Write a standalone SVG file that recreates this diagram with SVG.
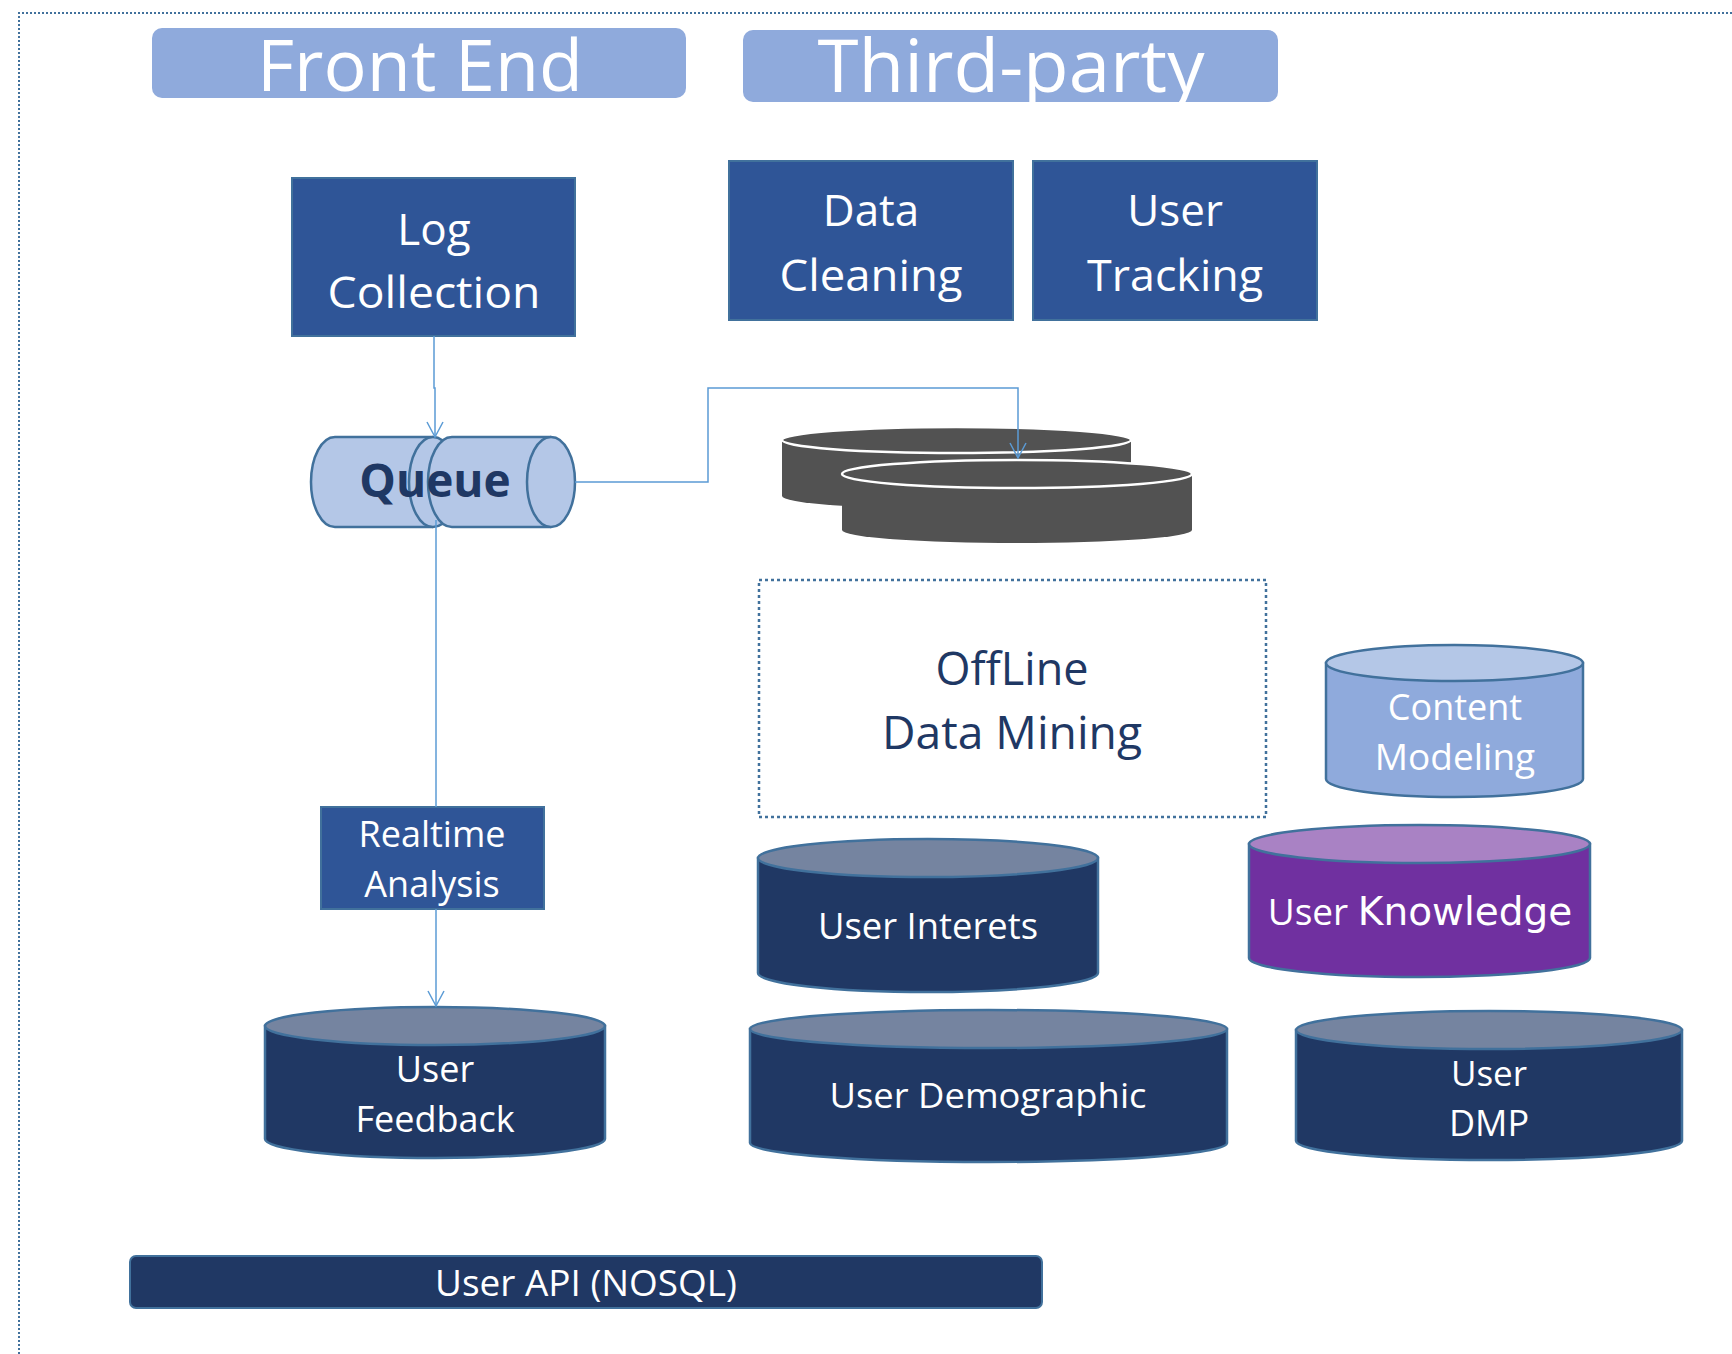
<svg xmlns="http://www.w3.org/2000/svg" width="1732" height="1354" viewBox="0 0 1732 1354">
<style>
text{font-family:"Open Sans","Liberation Sans",sans-serif;text-anchor:middle}
.w{fill:#ffffff}
.hdr{fill:#8faadc}
.proc{fill:#2f5597;stroke:#41719c;stroke-width:2}
.dark{fill:#203864;stroke:#41719c;stroke-width:2.5}
.darktop{fill:#7584a0;stroke:#41719c;stroke-width:2.5}
.conn{fill:none;stroke:#5b9bd5;stroke-width:1.5}
.q{fill:#b4c7e7;stroke:#41719c;stroke-width:2.5}
.gray{fill:#525252}
.graytop{fill:#525252;stroke:#ffffff;stroke-width:2.5}
</style>
<defs>
<marker id="arr" markerUnits="userSpaceOnUse" markerWidth="20" markerHeight="20" refX="16" refY="9" orient="auto">
<path d="M1,1 L16,9 L1,17" fill="none" stroke="#5b9bd5" stroke-width="1.5"/>
</marker>
</defs>
<rect width="1732" height="1354" fill="#ffffff"/>
<path d="M19,1354 V13 H1732" fill="none" stroke="#41719c" stroke-width="2" stroke-dasharray="2 2"/>

<g id="front-end">
<rect class="hdr" x="152" y="28" width="534" height="70" rx="10"/>
<text class="w" x="420" y="91" font-size="72" textLength="326" lengthAdjust="spacingAndGlyphs">Front End</text>
</g>
<g id="third-party">
<rect class="hdr" x="743" y="30" width="535" height="72" rx="10"/>
<text class="w" x="1011" y="92" font-size="74" textLength="387" lengthAdjust="spacingAndGlyphs">Third-party</text>
</g>

<g id="log-collection">
<rect class="proc" x="292" y="178" width="283" height="158"/>
<text class="w" x="434" y="245" font-size="44">Log</text>
<text class="w" x="434" y="308" font-size="44" textLength="213" lengthAdjust="spacingAndGlyphs">Collection</text>
</g>
<g id="data-cleaning">
<rect class="proc" x="729" y="161" width="284" height="159"/>
<text class="w" x="871" y="226" font-size="44">Data</text>
<text class="w" x="871" y="291" font-size="44" textLength="183" lengthAdjust="spacingAndGlyphs">Cleaning</text>
</g>
<g id="user-tracking">
<rect class="proc" x="1033" y="161" width="284" height="159"/>
<text class="w" x="1175" y="226" font-size="44">User</text>
<text class="w" x="1175" y="291" font-size="44" textLength="176" lengthAdjust="spacingAndGlyphs">Tracking</text>
</g>

<g id="queue">
<path class="q" d="M433,437 H335 A24,45 0 0 0 335,527 H433"/>
<ellipse class="q" cx="433" cy="482" rx="24" ry="45"/>
<path class="q" d="M551,437 H452 A24,45 0 0 0 452,527 H551"/>
<ellipse class="q" cx="551" cy="482" rx="24" ry="45"/>
<text x="435" y="497" font-family="Liberation Sans, Arial, sans-serif" font-weight="bold" font-size="46" fill="#1f3864">Queue</text>
</g>

<g id="storage">
<path class="gray" d="M782,440 V496 A174.5,13 0 0 0 1131,496 V440 Z"/>
<ellipse class="graytop" cx="956.5" cy="440" rx="174.5" ry="13"/>
<path class="gray" d="M842,474 V530 A175,13 0 0 0 1192,530 V474 Z"/>
<ellipse class="graytop" cx="1017" cy="474" rx="175" ry="14"/>
</g>

<g id="offline-data-mining">
<rect x="759" y="580" width="507" height="237" fill="none" stroke="#41719c" stroke-width="2.5" stroke-dasharray="3 3"/>
<text x="1012" y="685" font-size="45" fill="#1f3864">OffLine</text>
<text x="1012" y="749" font-size="46" fill="#1f3864" textLength="260" lengthAdjust="spacingAndGlyphs">Data Mining</text>
</g>

<g id="content-modeling">
<path d="M1326,663 V779 A128.5,18 0 0 0 1583,779 V663 Z" fill="#8faadc" stroke="#41719c" stroke-width="2.5"/>
<ellipse cx="1454.5" cy="663" rx="128.5" ry="18" fill="#b4c7e7" stroke="#41719c" stroke-width="2.5"/>
<text class="w" x="1455" y="720" font-size="36">Content</text>
<text class="w" x="1455" y="770" font-size="37">Modeling</text>
</g>

<g id="realtime-analysis">
<rect class="proc" x="321" y="807" width="223" height="102"/>
<text class="w" x="432" y="847" font-size="36">Realtime</text>
<text class="w" x="432" y="897" font-size="36">Analysis</text>
</g>

<g id="user-interets">
<path class="dark" d="M758,858 V973 A170,19 0 0 0 1098,973 V858 Z"/>
<ellipse class="darktop" cx="928" cy="858" rx="170" ry="19"/>
<text class="w" x="928" y="939" font-size="36" textLength="220" lengthAdjust="spacingAndGlyphs">User Interets</text>
</g>

<g id="user-knowledge">
<path d="M1249,844 V958 A170.5,19 0 0 0 1590,958 V844 Z" fill="#7030a0" stroke="#41719c" stroke-width="2.5"/>
<ellipse cx="1419.5" cy="844" rx="170.5" ry="19" fill="#a982c4" stroke="#41719c" stroke-width="2.5"/>
<text class="w" x="1420" y="925" font-size="37"><tspan>User </tspan><tspan font-family="DejaVu Sans, sans-serif" font-size="39">Knowledge</tspan></text>
</g>

<g id="user-feedback">
<path class="dark" d="M265,1026 V1139 A170,19 0 0 0 605,1139 V1026 Z"/>
<ellipse class="darktop" cx="435" cy="1026" rx="170" ry="19"/>
<text class="w" x="435" y="1082" font-size="36">User</text>
<text class="w" x="435" y="1132" font-size="36">Feedback</text>
</g>

<g id="user-demographic">
<path class="dark" d="M750,1029 V1143 A238.5,19 0 0 0 1227,1143 V1029 Z"/>
<ellipse class="darktop" cx="988.5" cy="1029" rx="238.5" ry="19"/>
<text class="w" x="988" y="1108" font-size="35" textLength="317" lengthAdjust="spacingAndGlyphs">User Demographic</text>
</g>

<g id="user-dmp">
<path class="dark" d="M1296,1030 V1141 A193,19 0 0 0 1682,1141 V1030 Z"/>
<ellipse class="darktop" cx="1489" cy="1030" rx="193" ry="19"/>
<text class="w" x="1489" y="1086" font-size="35">User</text>
<text class="w" x="1489" y="1136" font-size="36">DMP</text>
</g>

<g id="user-api">
<rect x="130" y="1256" width="912" height="52" rx="6" fill="#203864" stroke="#41719c" stroke-width="2"/>
<text class="w" x="586" y="1296" font-size="36" textLength="302" lengthAdjust="spacingAndGlyphs">User API (NOSQL)</text>
</g>

<g id="connectors">
<path class="conn" d="M434,336 V388 H435 V437" marker-end="url(#arr)"/>
<path class="conn" d="M436,520 V807"/>
<path class="conn" d="M436,909 V1006" marker-end="url(#arr)"/>
<path class="conn" d="M575,482 H708 V388 H1018 V458" marker-end="url(#arr)"/>
</g>
</svg>
